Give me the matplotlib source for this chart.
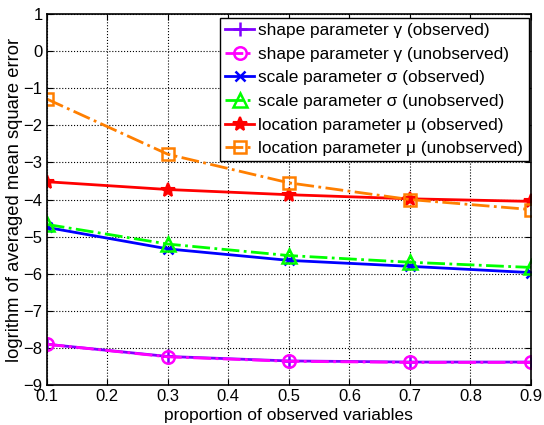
import matplotlib
matplotlib.use("Agg")
import matplotlib.pyplot as plt

plt.rcParams['font.family'] = ['Liberation Sans', 'DejaVu Sans']

proportion = [0.1, 0.3, 0.5, 0.7, 0.9]
shape_obs = [-7.90, -8.23, -8.35, -8.38, -8.38]
shape_unobs = [-7.90, -8.24, -8.36, -8.39, -8.39]
scale_obs = [-4.75, -5.33, -5.64, -5.80, -5.97]
scale_unobs = [-4.67, -5.20, -5.51, -5.69, -5.83]
loc_obs = [-3.52, -3.73, -3.87, -3.98, -4.05]
loc_unobs = [-1.29, -2.78, -3.55, -4.00, -4.27]

fig = plt.figure(figsize=(5.44, 4.25), dpi=100)
ax = fig.add_axes([0.086, 0.094, 0.890, 0.873])

ax.plot(proportion, shape_obs, '-', marker='+', color='#8000FF', lw=2, ms=10, mew=1.8,
        label='shape parameter γ (observed)')
ax.plot(proportion, shape_unobs, '-.', marker='o', color='#FF00FF', lw=2, ms=9, mew=1.8,
        mfc='none', label='shape parameter γ (unobserved)')
ax.plot(proportion, scale_obs, '-', marker='x', color='#0000FF', lw=2, ms=7, mew=1.8,
        label='scale parameter σ (observed)')
ax.plot(proportion, scale_unobs, '-.', marker='^', color='#00FF00', lw=2, ms=10, mew=1.8,
        mfc='none', label='scale parameter σ (unobserved)')
ax.plot(proportion, loc_obs, '-', marker='*', color='#FF0000', lw=2, ms=10, mew=1.5,
        label='location parameter μ (observed)')
ax.plot(proportion, loc_unobs, '-.', marker='s', color='#FF7F00', lw=2, ms=9, mew=1.8,
        mfc='none', label='location parameter μ (unobserved)')

ax.set_xlim(0.1, 0.9)
ax.set_ylim(-9, 1)
ax.set_xticks([0.1, 0.2, 0.3, 0.4, 0.5, 0.6, 0.7, 0.8, 0.9])
ax.set_yticks(range(-9, 2))
ax.grid(True, color='black', linestyle=':', linewidth=0.8)
ax.tick_params(direction='in', top=True, right=True, labelsize=12, length=4, pad=3)
for s in ax.spines.values():
    s.set_linewidth(1.2)

ax.set_xlabel('proportion of observed variables', fontsize=12.5, labelpad=2.5)
ax.set_ylabel('logrithm of averaged mean square error', fontsize=13.2, labelpad=0)

leg = ax.legend(loc='upper right', bbox_to_anchor=(0.995, 0.99), fontsize=12.4, fancybox=False,
                framealpha=1, edgecolor='black', borderaxespad=0, handlelength=1.7,
                handletextpad=0.25, labelspacing=0.5, borderpad=0.3)
leg.get_frame().set_linewidth(1.0)

fig.savefig('out.png', dpi=100)
